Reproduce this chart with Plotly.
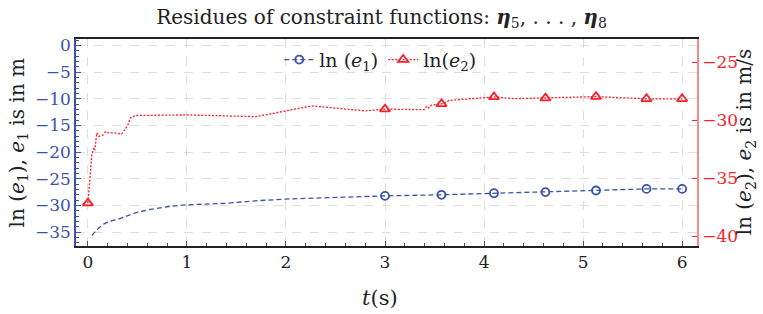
import plotly.graph_objects as go

# Blue series: ln(e1) on left axis
t_e1 = [0.04, 0.07, 0.11, 0.16, 0.21, 0.30, 0.38, 0.48, 0.61, 0.82, 0.98, 1.39, 1.72,
        2.0, 2.5, 3.0, 3.57, 4.1, 4.62, 5.13, 5.64, 6.0]
e1 = [-35.6, -35.0, -34.2, -33.5, -33.0, -32.6, -32.1, -31.4, -30.8, -30.2, -29.9, -29.6, -29.1,
      -28.8, -28.5, -28.2, -28.0, -27.7, -27.5, -27.2, -26.9, -26.9]
t_e1_mk = [3.0, 3.57, 4.1, 4.62, 5.13, 5.64, 6.0]
e1_mk = [-28.2, -28.0, -27.7, -27.5, -27.2, -26.9, -26.9]

# Red series: ln(e2) on right axis
t_e2 = [0.0, 0.03, 0.04, 0.06, 0.07, 0.09, 0.11, 0.15, 0.18, 0.21, 0.27, 0.34, 0.40, 0.43, 0.48,
        1.0, 1.7, 2.26, 2.8, 3.0, 3.4, 3.42, 3.44, 3.47, 3.57, 3.65, 4.1, 4.3, 4.62, 5.13, 5.64, 6.0]
e2 = [-37.16, -33.7, -33.0, -32.4, -32.6, -31.1, -31.4, -31.3, -31.0, -31.1, -31.1, -31.2, -30.5,
      -29.8, -29.6, -29.55, -29.7, -28.77, -29.2, -29.05, -29.1, -28.8, -28.95, -28.7, -28.6,
      -28.3, -28.0, -28.15, -28.1, -27.97, -28.16, -28.16]
t_e2_mk = [0.0, 3.0, 3.57, 4.1, 4.62, 5.13, 5.64, 6.0]
e2_mk = [-37.16, -29.05, -28.6, -28.0, -28.1, -27.97, -28.16, -28.16]

x_ticks = [0, 1, 2, 3, 4, 5, 6]
y1_ticks = [0, -5, -10, -15, -20, -25, -30, -35]
y2_ticks = [-25, -30, -35, -40]

BLUE = "rgb(60,82,170)"
RED = "rgb(250,30,40)"
FONT = "DejaVu Serif"
BLUE_DASH = "5px,3px"
RED_DOT = "2px,1.6px"

fig = go.Figure()
fig.add_trace(go.Scatter(x=t_e1, y=e1, mode="lines", line=dict(color=BLUE, dash=BLUE_DASH, width=1.3),
                         showlegend=False, yaxis="y"))
fig.add_trace(go.Scatter(x=t_e1_mk, y=e1_mk, mode="markers",
                         marker=dict(symbol="circle-open", size=8, color=BLUE, line=dict(width=1.8)),
                         showlegend=False, yaxis="y"))
fig.add_trace(go.Scatter(x=t_e2, y=e2, mode="lines", line=dict(color=RED, dash=RED_DOT, width=1.3),
                         showlegend=False, yaxis="y2"))
fig.add_trace(go.Scatter(x=t_e2_mk, y=e2_mk, mode="markers",
                         marker=dict(symbol="triangle-up-open", size=9, color=RED, line=dict(width=1.8)),
                         showlegend=False, yaxis="y2"))
# legend entries
fig.add_trace(go.Scatter(x=[None], y=[None], mode="lines+markers", name="ln (<i>e</i><sub>1</sub>)",
                         line=dict(color=BLUE, dash=BLUE_DASH, width=1.3),
                         marker=dict(symbol="circle-open", size=8, color=BLUE, line=dict(width=1.8))))
fig.add_trace(go.Scatter(x=[None], y=[None], mode="lines+markers", name="ln(<i>e</i><sub>2</sub>)",
                         line=dict(color=RED, dash=RED_DOT, width=1.3),
                         marker=dict(symbol="triangle-up-open", size=9, color=RED, line=dict(width=1.8))))

fig.update_layout(
    width=763, height=314,
    margin=dict(l=76, r=66, t=39, b=68, autoexpand=False),
    paper_bgcolor="white", plot_bgcolor="white",
    font=dict(family=FONT, size=15, color="#222"),
    title=dict(text="Residues of constraint functions: <b><i>η</i></b><sub>5</sub>, . . . , <b><i>η</i></b><sub>8</sub>",
               x=0.5, xanchor="center", y=0.946, yanchor="middle", automargin=False,
               font=dict(size=20, family=FONT, color="#222")),
    legend=dict(orientation="h", x=0.49, y=0.9, xanchor="center", yanchor="middle",
                bgcolor="rgba(255,255,255,0)", font=dict(size=19, family=FONT), itemwidth=30),
    xaxis=dict(range=[-0.12, 6.15], tickvals=x_ticks, ticks="inside", ticklen=5, tickcolor="#555",
               showline=True, linecolor="#222", linewidth=1.5, mirror=True, automargin=False,
               showgrid=True, gridcolor="#ddd", griddash="dash", zeroline=False,
               minor=dict(dtick=0.2, ticks="inside", ticklen=3, tickcolor="#555", showgrid=False),
               tickfont=dict(size=17, color="#222")),
    yaxis=dict(range=[-37.6, 1.2], tickvals=y1_ticks, ticks="inside", ticklen=5, tickcolor=BLUE,
               showline=True, linecolor=BLUE, linewidth=1.5, automargin=False,
               showgrid=True, gridcolor="#ddd", griddash="dash", zeroline=False,
               minor=dict(dtick=1, ticks="inside", ticklen=3, tickcolor=BLUE, showgrid=False),
               tickfont=dict(size=17, color=BLUE)),
    yaxis2=dict(range=[-40.86, -23.0], tickvals=y2_ticks, overlaying="y", side="right",
                ticks="inside", ticklen=5, tickcolor=RED, automargin=False,
                showline=True, linecolor="rgba(240,90,90,0.7)", linewidth=1.5,
                showgrid=False, zeroline=False,
                tickfont=dict(size=17, color=RED)),
    annotations=[
        dict(text="ln (<i>e</i><sub>1</sub>), <i>e</i><sub>1</sub> is in m", xref="paper", yref="paper",
             x=-0.095, y=0.5, xanchor="center", yanchor="middle", textangle=-90, showarrow=False,
             font=dict(size=20, family=FONT, color="#222")),
        dict(text="ln (<i>e</i><sub>2</sub>), <i>e</i><sub>2</sub> is in m/s", xref="paper", yref="paper",
             x=1.077, y=0.5, xanchor="center", yanchor="middle", textangle=-90, showarrow=False,
             font=dict(size=20, family=FONT, color="#222")),
        dict(text="<i>t</i>(s)", xref="paper", yref="paper",
             x=0.49, y=-0.251, xanchor="center", yanchor="middle", showarrow=False,
             font=dict(size=21, family=FONT, color="#222")),
    ],
)

fig.write_html("out.html", config={"displayModeBar": False},
               post_script="document.body.style.margin='0';")
